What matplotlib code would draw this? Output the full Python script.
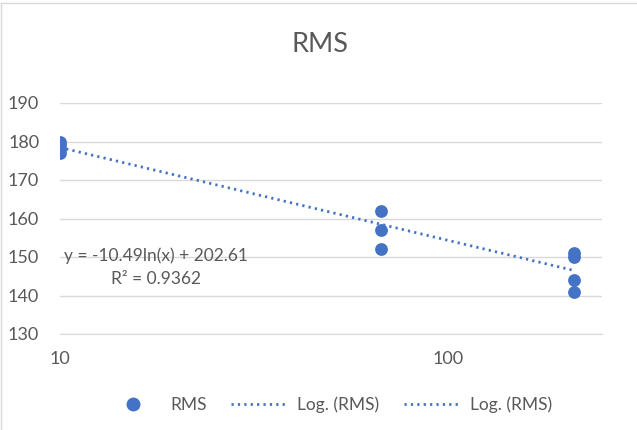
import numpy as np
import matplotlib
matplotlib.use("Agg")
import matplotlib.pyplot as plt
from matplotlib.lines import Line2D
from matplotlib.ticker import FixedLocator, NullLocator, FixedFormatter

# Data
x_vals = [10, 10, 10, 10, 67, 67, 67, 211, 211, 211, 211]
rms_vals = [180, 179, 178, 177, 162, 157, 152, 151, 150, 144, 141]
coef_a = -10.49
coef_b = 202.61
r2 = 0.9362
y_ticks = [130, 140, 150, 160, 170, 180, 190]
x_ticks = [10, 100]
x_tick_labels = ["10", "100"]

plt.rcParams['font.family'] = ['Lato', 'DejaVu Sans']
txt = '#595959'
blue = '#4472C4'

fig = plt.figure(figsize=(6.37, 4.30), dpi=100)
ax = fig.add_axes([60/637, 1-334/430, (602-60)/637, (334-103)/430])

ax.set_xscale('log')
ax.set_xlim(10, 10**(1 + (602-62)/387))
ax.set_ylim(130, 190)

ax.scatter(x_vals, rms_vals, s=85, color=blue, zorder=3, linewidths=0)

xt = np.linspace(min(x_vals), max(x_vals), 200)
yt = coef_a*np.log(xt) + coef_b
ax.plot(xt, yt, color=blue, lw=2.0, linestyle=(0, (0.8, 1.5)), zorder=4)

ax.yaxis.set_major_locator(FixedLocator(y_ticks))
ax.xaxis.set_major_locator(FixedLocator(x_ticks))
ax.xaxis.set_major_formatter(FixedFormatter(x_tick_labels))
ax.xaxis.set_minor_locator(NullLocator())
ax.grid(axis='y', color='#D9D9D9', lw=1.0)
ax.set_axisbelow(True)
for s in ['top', 'right', 'left']:
    ax.spines[s].set_visible(False)
ax.spines['bottom'].set_color('#D9D9D9')
ax.tick_params(length=0, labelsize=13, colors=txt)
ax.tick_params(axis='y', pad=15)
ax.tick_params(axis='x', pad=12)

ax.text(10**(1 + (158-62)/387), 150.3, "y = -10.49ln(x) + 202.61", ha='center', va='center',
        fontsize=12.5, color=txt)
ax.text(10**(1 + (158-62)/387), 144.3, "R² = 0.9362", ha='center', va='center',
        fontsize=12.5, color=txt)

fig.text(0.503, 1-44/430, "RMS", ha='center', va='center', fontsize=19.5, color=txt)

handles = [
    Line2D([], [], marker='o', ls='none', color=blue, markersize=9),
    Line2D([], [], color=blue, lw=2.0, linestyle=(0, (0.8, 1.5))),
    Line2D([], [], color=blue, lw=2.0, linestyle=(0, (0.8, 1.5))),
]
fig.legend(handles, ["RMS", "Log. (RMS)", "Log. (RMS)"], loc='center',
           bbox_to_anchor=(0.515, 1-405/430), ncol=3, frameon=False, fontsize=12.5,
           labelcolor=txt, handlelength=3.3, columnspacing=1.4, handletextpad=0.5)

# chart area border (top and left visible)
fig.add_artist(Line2D([1/637, 1/637], [0, 1-3/430], transform=fig.transFigure, color='#D9D9D9', lw=1))
fig.add_artist(Line2D([1/637, 1], [1-3/430, 1-3/430], transform=fig.transFigure, color='#D9D9D9', lw=1))

fig.savefig("out.png", dpi=100)
